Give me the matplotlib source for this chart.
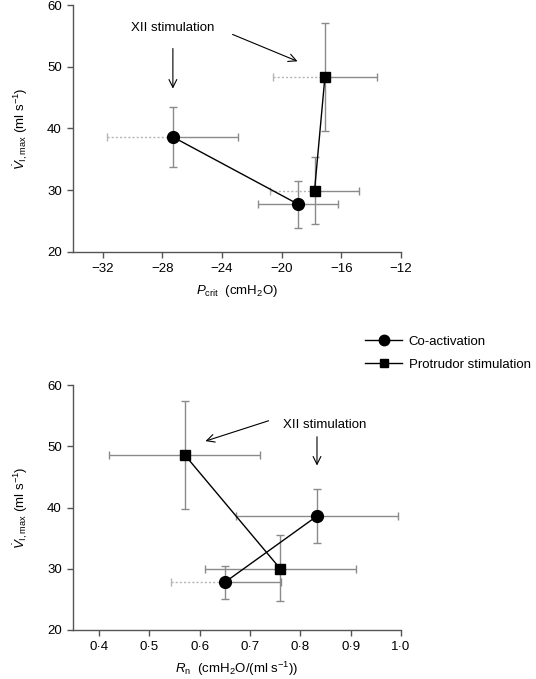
import matplotlib
matplotlib.use("Agg")
import matplotlib.pyplot as plt
from matplotlib.lines import Line2D

plt.rcParams['font.family'] = ['Liberation Sans', 'DejaVu Sans']
plt.rcParams['mathtext.fontset'] = 'custom'
plt.rcParams['mathtext.rm'] = 'Liberation Sans'
plt.rcParams['mathtext.it'] = 'Liberation Sans:italic'
plt.rcParams['mathtext.bf'] = 'Liberation Sans:bold'

# ---- data ----
series_names = ["Co-activation", "Protrudor stimulation"]

# top panel: Pcrit (cmH2O) vs VImax (ml/s)
coact_pcrit = [-27.3, -18.9]
coact_pcrit_err_lo = [4.4, 2.7]
coact_pcrit_err_hi = [4.4, 2.7]
coact_v_top = [38.6, 27.7]
coact_v_top_err_lo = [4.9, 3.9]
coact_v_top_err_hi = [4.9, 3.8]

protr_pcrit = [-17.8, -17.1]
protr_pcrit_err_lo = [3.0, 3.5]
protr_pcrit_err_hi = [3.0, 3.5]
protr_v_top = [29.9, 48.4]
protr_v_top_err_lo = [5.4, 8.8]
protr_v_top_err_hi = [5.5, 8.7]

# bottom panel: Rn (cmH2O/(ml/s)) vs VImax
coact_rn = [0.833, 0.650]
coact_rn_err_lo = [0.161, 0.107]
coact_rn_err_hi = [0.161, 0.111]
coact_v_bot = [38.6, 27.8]
coact_v_bot_err_lo = [4.4, 2.7]
coact_v_bot_err_hi = [4.4, 2.7]

protr_rn = [0.570, 0.760]
protr_rn_err_lo = [0.150, 0.150]
protr_rn_err_hi = [0.149, 0.151]
protr_v_bot = [48.6, 30.0]
protr_v_bot_err_lo = [8.9, 5.3]
protr_v_bot_err_hi = [8.8, 5.5]

top_xticks = [-32, -28, -24, -20, -16, -12]
bot_xticks = [0.4, 0.5, 0.6, 0.7, 0.8, 0.9, 1.0]
bot_xticklabels = ["0·4", "0·5", "0·6", "0·7", "0·8", "0·9", "1·0"]
yticks = [20, 30, 40, 50, 60]

# which left x-error halves look dotted (scan appearance)
top_coact_left_dotted = [True, False]
top_protr_left_dotted = [True, True]
bot_coact_left_dotted = [False, True]
bot_protr_left_dotted = [False, False]

ERRC = '#8a8a8a'

fig = plt.figure(figsize=(5.36, 6.79), dpi=100)
ax1 = fig.add_axes([73/536, 1-251.7/679, 328/536, 246.7/679])
ax2 = fig.add_axes([73/536, 1-630/679, 328/536, 245/679])


def draw_series(ax, xs, xlo, xhi, ys, ylo, yhi, dotted, marker, ms):
    ax.plot(xs, ys, color='black', lw=1.0, zorder=3)
    for i in range(len(xs)):
        ax.errorbar([xs[i]], [ys[i]], xerr=[[0], [xhi[i]]],
                    yerr=[[ylo[i]], [yhi[i]]], fmt='none', ecolor=ERRC,
                    elinewidth=1.0, capsize=3, capthick=1.0, zorder=2)
        eb = ax.errorbar([xs[i]], [ys[i]], xerr=[[xlo[i]], [0]], fmt='none',
                         ecolor=('#b5b5b5' if dotted[i] else ERRC),
                         elinewidth=1.0, capsize=3, capthick=1.0, zorder=2)
        if dotted[i]:
            for lc in eb[2]:
                lc.set_linestyle((0, (1.5, 1.5)))
    ax.plot(xs, ys, ls='none', marker=marker, ms=ms, color='black', zorder=4)


def style_axes(ax):
    for s in ['top', 'right']:
        ax.spines[s].set_visible(False)
    for s in ['left', 'bottom']:
        ax.spines[s].set_color('#555555')
        ax.spines[s].set_linewidth(1.0)
    ax.tick_params(direction='out', length=4, width=1.0, color='#555555',
                   labelsize=9.5, pad=4)
    ax.set_ylim(20, 60)
    ax.set_yticks(yticks)


# top panel
draw_series(ax1, coact_pcrit, coact_pcrit_err_lo, coact_pcrit_err_hi,
            coact_v_top, coact_v_top_err_lo, coact_v_top_err_hi,
            top_coact_left_dotted, 'o', 8.5)
draw_series(ax1, protr_pcrit, protr_pcrit_err_lo, protr_pcrit_err_hi,
            protr_v_top, protr_v_top_err_lo, protr_v_top_err_hi,
            top_protr_left_dotted, 's', 6.5)
style_axes(ax1)
ax1.set_xlim(-34, -12)
ax1.set_xticks(top_xticks)
ax1.set_xlabel(r'$P_{\mathrm{crit}}$  (cmH$_2$O)', fontsize=9.5, labelpad=6)
ax1.set_ylabel(r'$\dot{V}_{\mathrm{I,max}}$ (ml s$^{-1}$)', fontsize=9.5, labelpad=12)
ax1.text(-27.3, 56.3, 'XII stimulation', ha='center', va='center', fontsize=9.5)
ax1.annotate('', xy=(-27.3, 46.0), xytext=(-27.3, 53.4),
             arrowprops=dict(arrowstyle='->', color='black', lw=0.8,
                             mutation_scale=14))
ax1.annotate('', xy=(-18.77, 50.7), xytext=(-23.47, 55.4),
             arrowprops=dict(arrowstyle='->', color='black', lw=0.8,
                             mutation_scale=14))

# bottom panel
draw_series(ax2, coact_rn, coact_rn_err_lo, coact_rn_err_hi,
            coact_v_bot, coact_v_bot_err_lo, coact_v_bot_err_hi,
            bot_coact_left_dotted, 'o', 8.5)
draw_series(ax2, protr_rn, protr_rn_err_lo, protr_rn_err_hi,
            protr_v_bot, protr_v_bot_err_lo, protr_v_bot_err_hi,
            bot_protr_left_dotted, 's', 6.5)
style_axes(ax2)
ax2.set_xlim(0.348, 1.0)
ax2.set_xticks(bot_xticks)
ax2.set_xticklabels(bot_xticklabels)
ax2.set_xlabel(r'$R_{\mathrm{n}}$  (cmH$_2$O/(ml s$^{-1}$))', fontsize=9.5, labelpad=5)
ax2.set_ylabel(r'$\dot{V}_{\mathrm{I,max}}$ (ml s$^{-1}$)', fontsize=9.5, labelpad=12)
ax2.text(0.766, 53.5, 'XII stimulation', ha='left', va='center', fontsize=9.5)
ax2.annotate('', xy=(0.606, 50.7), xytext=(0.742, 54.3),
             arrowprops=dict(arrowstyle='->', color='black', lw=0.8,
                             mutation_scale=14))
ax2.annotate('', xy=(0.833, 46.4), xytext=(0.833, 52.0),
             arrowprops=dict(arrowstyle='->', color='black', lw=0.8,
                             mutation_scale=14))

# legend
handles = [Line2D([0], [0], color='black', lw=1.0, marker='o', ms=7.5),
           Line2D([0], [0], color='black', lw=1.0, marker='s', ms=6)]
fig.legend(handles, series_names, loc='upper left',
           bbox_to_anchor=(360/536, 1-330/679), frameon=False,
           fontsize=9.5, handlelength=2.8, handletextpad=0.5,
           labelspacing=0.85, borderaxespad=0)

fig.savefig('out.png', dpi=100)
